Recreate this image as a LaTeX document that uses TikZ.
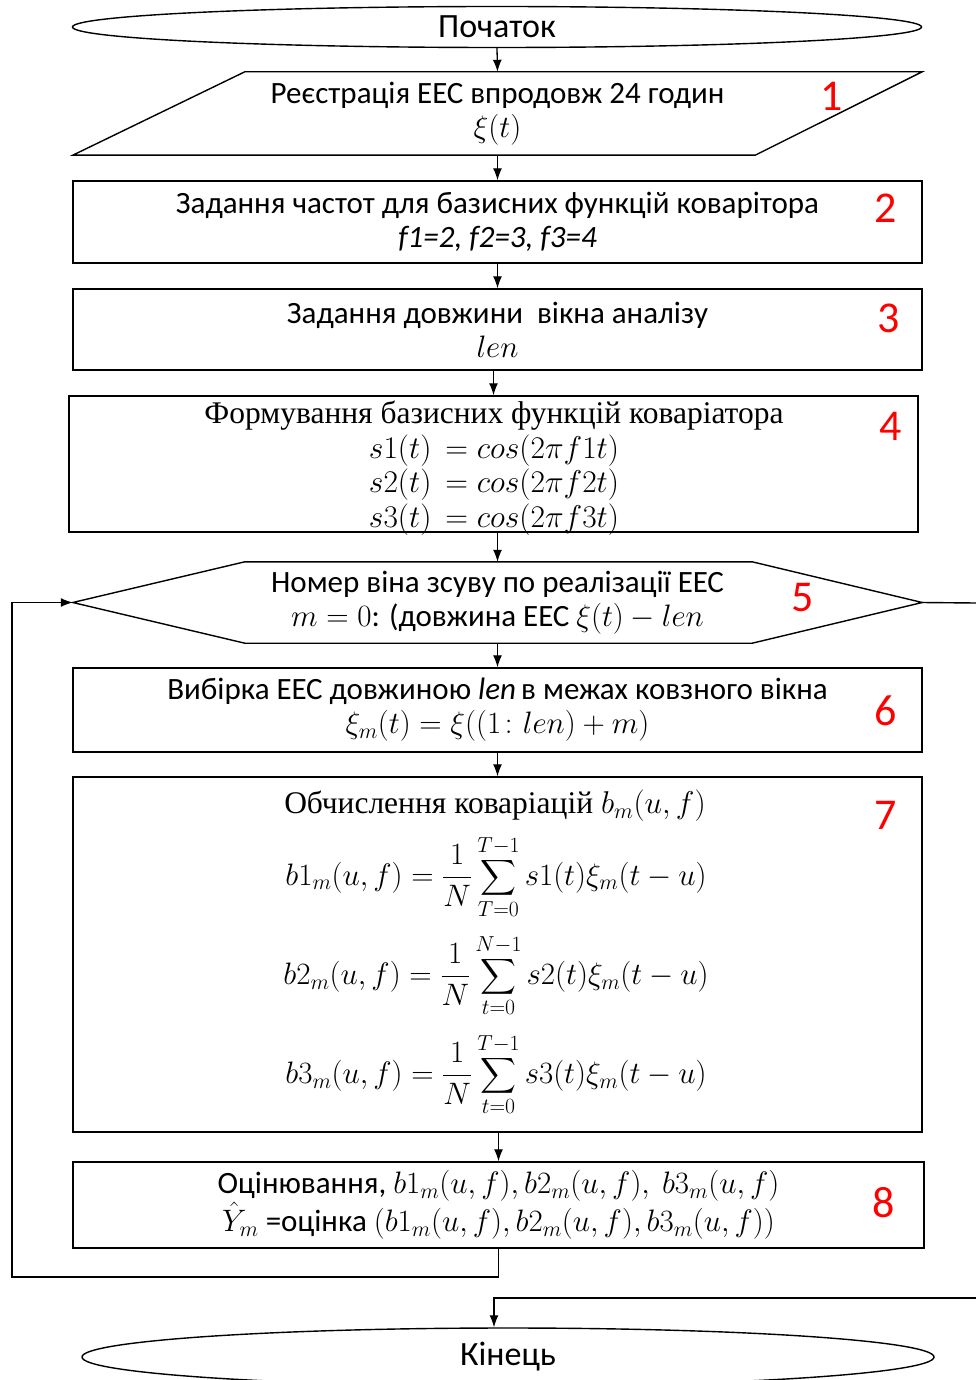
\RequirePackage{fix-cm}
\documentclass[tikz,border=0pt]{standalone}
\usepackage{fontspec}
\setmainfont{Carlito}
\newfontfamily\serifcy{Liberation Serif}
\usepackage{amsmath}
\usepackage{tikz}
\usetikzlibrary{shapes.geometric, arrows.meta, positioning, calc}
\newcommand{\boxfont}{\fontsize{31}{34}\selectfont}
\newcommand{\serfont}{\serifcy\fontsize{31.5}{34.7}\selectfont}
\newcommand{\termfont}{\fontsize{34}{36}\selectfont}
\tikzstyle{terminal} = [ellipse, draw, line width=1.4pt, minimum width=849pt, minimum height=41pt, inner sep=0pt, font=\termfont]
\tikzstyle{process} = [rectangle, draw, line width=1.4pt, minimum width=849pt, minimum height=82pt, align=center, font=\boxfont]
\tikzstyle{textonly} = [rectangle, align=center, font=\boxfont]
\tikzstyle{num} = [text=red, font=\fontsize{44}{44}\selectfont]
\tikzstyle{arrow} = [line width=1.3pt, -{Latex[length=12pt, width=9pt]}]
\tikzstyle{line} = [line width=1.4pt]
\begin{document}
\begin{tikzpicture}[x=1pt, y=-1pt]
    \useasboundingbox (0,0) rectangle (976,1380);

    % Start
    \node[terminal] (start) at (497,27) {Початок};

    % 1: input (parallelogram)
    \node[textonly, minimum width=849pt, minimum height=83pt] (p1) at (497.5,113.5) {Реєстрація ЕЕС впродовж 24 годин\\ $\xi(t)$};
    \draw[line] ($(p1.north west)+(172,0)$) -- (p1.north east) -- ($(p1.south east)-(167,0)$) -- (p1.south west) -- cycle;

    % 2, 3, 4: setup
    \node[process] (b2) at (497.5,222) {Задання частот для базисних функцій коварітора\\ \textit{f1=2, f2=3, f3=4}};
    \node[process, minimum height=81pt] (b3) at (497.5,329.5) {Задання довжини\ \ вікна аналізу\\ $len$};
    \node[process, minimum height=136pt] (b4) at (493.5,464) {};
    \node[textonly, inner sep=0pt, font=\serfont] (t4) at (494,468) {Формування базисних функцій\ коваріатора\\
        $s1(t)\,=cos(2\pi f1t)$\\ $s2(t)\,=cos(2\pi f2t)$\\ $s3(t)\,=cos(2\pi f3t)$};

    % 5: loop (hexagon)
    \node[textonly, minimum width=849pt, minimum height=81pt] (h5) at (497.5,602.5) {Номер віна зсуву по реалізації ЕЕС\\ $m = 0$: (довжина ЕЕС $\xi(t) - len$};
    \draw[line] (h5.west) -- ($(h5.north west)+(172,0)$) -- ($(h5.north east)-(170,0)$) -- (h5.east)
        -- ($(h5.south east)-(170,0)$) -- ($(h5.south west)+(172,0)$) -- cycle;

    % 6, 7, 8: loop body
    \node[process, minimum height=84pt] (b6) at (497.5,710) {Вибірка ЕЕС довжиною\ \textit{len}\,в межах ковзного вікна\\ $\xi_m(t) = \xi((1\colon len)+m)$};
    \node[process, minimum height=355pt] (b7) at (497.5,954.5) {};
    \node[textonly, font=\serfont, inner sep=0pt] (t7) at (495,806) {Обчислення коваріацій $b_m(u,f)$};
    \node[textonly, inner sep=0pt] (f71) at (496,877) {$\displaystyle b1_m(u,f)=\frac{1}{N}\sum_{T=0}^{T-1} s1(t)\xi_m(t-u)$};
    \node[textonly, inner sep=0pt] (f72) at (496,976) {$\displaystyle b2_m(u,f)=\frac{1}{N}\sum_{t=0}^{N-1} s2(t)\xi_m(t-u)$};
    \node[textonly, inner sep=0pt] (f73) at (496,1075) {$\displaystyle b3_m(u,f)=\frac{1}{N}\sum_{t=0}^{T-1} s3(t)\xi_m(t-u)$};
    \node[process, minimum width=851pt, minimum height=86pt] (b8) at (498.5,1205) {Оцінювання, $b1_m(u,f), b2_m(u,f),\ b3_m(u,f)$\\
        $\hat{Y}_m$ =оцінка $(b1_m(u,f), b2_m(u,f), b3_m(u,f))$};

    % End
    \node[terminal, minimum width=852pt, minimum height=58pt] (end) at (508,1357) {Кінець};

    % Step numbers
    \node[num] (n1) at (832,96) {1};
    \node[num] (n2) at (886,208) {2};
    \node[num] (n3) at (889,318) {3};
    \node[num] (n4) at (891,426) {4};
    \node[num] (n5) at (803,598) {5};
    \node[num] (n6) at (886,711) {6};
    \node[num] (n7) at (886,815) {7};
    \node[num] (n8) at (884,1203) {8};

    % Flow arrows
    \draw[arrow] (start.south) -- (p1.north);
    \draw[arrow] (p1.south) -- (b2.north);
    \draw[arrow] (b2.south) -- (b3.north);
    \draw[arrow] (b3.south -| b4.north) -- (b4.north);
    \draw[arrow] (b4.south -| h5.north) -- (h5.north);
    \draw[arrow] (h5.south) -- (b6.north);
    \draw[arrow] (b6.south) -- (b7.north);
    \draw[arrow] (b7.south -| b8.north) -- (b8.north);

    % Loop back and exit
    \coordinate (loopL) at (12,1277);
    \draw[arrow] (b8.south) |- (loopL) |- (h5.west);
    \coordinate (exitR) at (976,603);
    \draw[line] (h5.east) -- (exitR);
    \coordinate (backR) at (976,1298);
    \coordinate (endIn) at (494,1298);
    \draw[arrow] (backR) -- (endIn) -- (endIn |- end.north);
\end{tikzpicture}
\end{document}
